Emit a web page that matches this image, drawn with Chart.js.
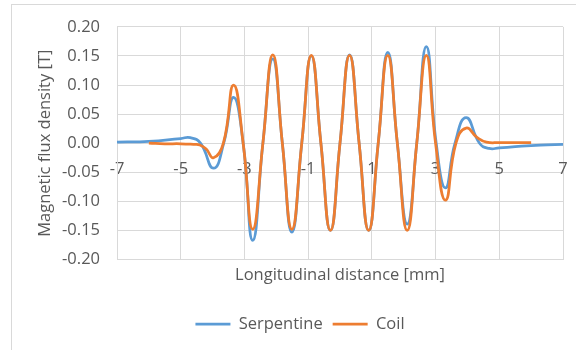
<!DOCTYPE html>
<html>
<head>
<meta charset="utf-8">
<script src="https://cdn.jsdelivr.net/npm/chart.js@4.4.0/dist/chart.umd.min.js"></script>
<style>
  html, body { margin: 0; padding: 0; background: #ffffff; }
  #wrap { width: 576px; height: 350px; position: relative; }
</style>
</head>
<body>
<div id="wrap"><canvas id="fluxChart"></canvas></div>
<script>
// Values (x in mm, y in T)
const serpX = [-7, -6, -5, -4.7, -4.38, -3.97, -3.65, -3.34, -3.04, -2.74, -2.42, -2.11, -1.81, -1.51, -1.20, -0.90, -0.60, -0.30, 0.00, 0.30, 0.60, 0.90, 1.20, 1.50, 1.80, 2.11, 2.41, 2.71, 3.02, 3.31, 3.61, 3.96, 4.38, 4.68, 5.0, 5.5, 6.0, 6.5, 7.0];
const serpY = [0.002, 0.003, 0.008, 0.0095, 0.000, -0.043, 0.000, 0.079, 0.000, -0.167, 0.000, 0.145, 0.000, -0.153, 0.000, 0.150, 0.000, -0.150, 0.000, 0.152, 0.000, -0.150, 0.000, 0.156, 0.000, -0.139, 0.000, 0.166, 0.000, -0.077, 0.000, 0.044, 0.000, -0.009, -0.008, -0.006, -0.004, -0.003, -0.002];

const coilX = [-6.0, -5.5, -5.0, -4.6, -4.4, -4.2, -3.97, -3.66, -3.34, -3.04, -2.74, -2.42, -2.11, -1.81, -1.51, -1.20, -0.90, -0.60, -0.30, 0.00, 0.30, 0.60, 0.90, 1.20, 1.50, 1.80, 2.11, 2.41, 2.71, 3.00, 3.31, 3.64, 3.96, 4.3, 4.6, 5.0, 5.5, 6.0];
const coilY = [0.000, -0.001, -0.001, -0.002, -0.003, -0.010, -0.025, 0.000, 0.100, 0.000, -0.148, 0.000, 0.152, 0.000, -0.148, 0.000, 0.151, 0.000, -0.150, 0.000, 0.151, 0.000, -0.150, 0.000, 0.151, 0.000, -0.150, 0.000, 0.151, 0.000, -0.098, 0.000, 0.026, 0.010, 0.002, 0.001, 0.001, 0.001];

const seriesNames = ['Serpentine', 'Coil'];
const seriesColors = ['#5B9BD5', '#ED7D31'];
const xLimits = [-7, 7];
const yLimits = [-0.2, 0.2];

const textColor = '#595959';
const gridColor = '#d9d9d9';

Chart.defaults.font.family = "'Open Sans', sans-serif";
Chart.defaults.font.size = 16.5;
Chart.defaults.color = textColor;

function toPoints(xs, ys) {
  return xs.map((x, i) => ({ x: x, y: ys[i] }));
}

// light frame of the chart object, cut off at the right and bottom like the picture
const framePlugin = {
  id: 'frame',
  beforeDraw(chart) {
    const ctx = chart.ctx;
    ctx.save();
    ctx.strokeStyle = gridColor;
    ctx.lineWidth = 1;
    ctx.strokeRect(11.5, 4.5, 700, 500);
    ctx.restore();
  }
};

new Chart(document.getElementById('fluxChart'), {
  type: 'line',
  data: {
    datasets: [
      {
        label: seriesNames[0],
        data: toPoints(serpX, serpY),
        borderColor: seriesColors[0],
        backgroundColor: seriesColors[0],
        borderWidth: 2.75,
        pointRadius: 0,
        tension: 0.5,
        order: 2
      },
      {
        label: seriesNames[1],
        data: toPoints(coilX, coilY),
        borderColor: seriesColors[1],
        backgroundColor: seriesColors[1],
        borderWidth: 2.75,
        pointRadius: 0,
        tension: 0.5,
        order: 1
      }
    ]
  },
  options: {
    responsive: true,
    maintainAspectRatio: false,
    animation: false,
    layout: { padding: { left: 37, right: 13, top: 25, bottom: 7.75 } },
    plugins: {
      tooltip: { enabled: false },
      legend: {
        position: 'bottom',
        labels: {
          usePointStyle: true,
          pointStyle: 'line',
          pointStyleWidth: 35,
          padding: 10,
          color: textColor,
          sort: (a, b) => a.datasetIndex - b.datasetIndex
        }
      }
    },
    scales: {
      x: {
        type: 'linear',
        min: xLimits[0],
        max: xLimits[1],
        ticks: { display: false, stepSize: 2 },
        grid: { color: gridColor, drawTicks: false },
        border: { color: gridColor },
        title: {
          display: true,
          text: 'Longitudinal distance [mm]',
          color: textColor,
          padding: { top: 4, bottom: 20.85 }
        },
        afterFit(scale) { scale.height = 46.25; }
      },
      // labels of the horizontal axis, sitting on the zero line
      xZero: {
        type: 'linear',
        axis: 'x',
        position: { y: 0 },
        min: xLimits[0],
        max: xLimits[1],
        ticks: { stepSize: 2, padding: 3, maxRotation: 0, color: textColor },
        grid: { display: false, drawTicks: true, tickLength: 13 },
        border: { display: false }
      },
      y: {
        min: yLimits[0],
        max: yLimits[1],
        ticks: {
          stepSize: 0.05,
          padding: 17,
          color: textColor,
          callback: (v) => v.toFixed(2)
        },
        grid: { color: gridColor, drawTicks: false },
        border: { color: gridColor },
        title: {
          display: true,
          text: 'Magnetic flux density [T]',
          color: textColor,
          padding: { top: -2, bottom: 0 }
        },
        afterFit(scale) { scale.width = 80; }
      }
    }
  },
  plugins: [framePlugin]
});
</script>
</body>
</html>
